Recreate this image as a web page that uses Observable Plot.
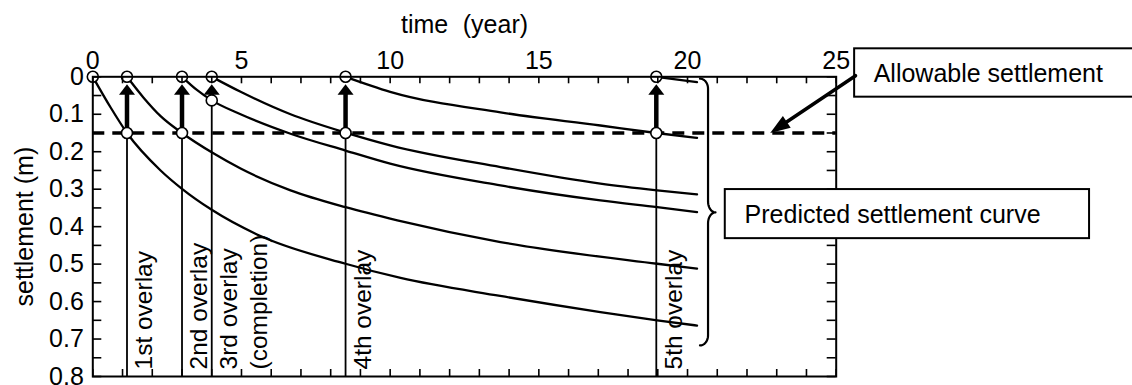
<!DOCTYPE html>
<html>
<head>
<meta charset="utf-8">
<script src="https://cdn.jsdelivr.net/npm/d3@7"></script>
<script src="https://cdn.jsdelivr.net/npm/@observablehq/plot@0.6"></script>
<style>
  html, body { margin: 0; padding: 0; background: #fff; }
  #chart { width: 1132px; height: 385px; overflow: hidden; }
</style>
</head>
<body>
<div id="chart"></div>
<script>
// ---------------- data ----------------
const xTickLabels = [0, 5, 10, 15, 20, 25];
const yTickLabels = [0, 0.1, 0.2, 0.3, 0.4, 0.5, 0.6, 0.7, 0.8];

const overlayTime = [1.15, 3, 4, 8.5, 18.95];
const overlayLabel = ["1st overlay", "2nd overlay", "3rd overlay\n(completion)", "4th overlay", "5th overlay"];
const overlayBase = [0.15, 0.15, 0.063, 0.15, 0.15];

const allowableSettlement = 0.15;

const curve1Time = [0, 0.6, 1.15, 2.28, 3.0, 4.0, 5.64, 8.5, 10.35, 13.7, 17.07, 18.98, 20.32];
const curve1Settlement = [0, 0.082, 0.15, 0.25, 0.299, 0.355, 0.425, 0.499, 0.537, 0.585, 0.628, 0.65, 0.664];
const curve2Time = [1.15, 1.7, 2.28, 3.0, 4.07, 4.97, 6.65, 8.5, 10.24, 13.71, 18.98, 20.32];
const curve2Settlement = [0, 0.055, 0.105, 0.15, 0.205, 0.245, 0.303, 0.348, 0.383, 0.441, 0.499, 0.512];
const curve3Time = [3, 3.5, 4.0, 4.97, 6.65, 8.5, 10.0, 13.71, 17.07, 18.98, 20.32];
const curve3Settlement = [0, 0.035, 0.063, 0.1, 0.152, 0.197, 0.232, 0.29, 0.33, 0.348, 0.361];
const curve4Time = [4, 4.97, 6.65, 8.5, 10.0, 13.71, 17.07, 18.98, 20.32];
const curve4Settlement = [0, 0.04, 0.1, 0.149, 0.183, 0.241, 0.285, 0.303, 0.314];
const curve5Time = [8.5, 10.0, 13.71, 17.07, 18.95, 20.32];
const curve5Settlement = [0, 0.04, 0.095, 0.13, 0.15, 0.163];
const curve6Time = [18.95, 20.32];
const curve6Settlement = [0, 0.014];

const pointTime = [0, 1.15, 1.15, 3, 3, 4, 4, 8.5, 8.5, 18.95, 18.95];
const pointSettlement = [0, 0, 0.15, 0, 0.15, 0, 0.063, 0, 0.15, 0, 0.15];

// ---------------- layout ----------------
const W = 1132, H = 385;
const mL = 92.3, mR = 296.3, mT = 76.3, mB = 9;
const innerW = W - mL - mR, innerH = H - mT - mB;
const xMax = 25, yMax = 0.8;
const pxT = innerW / xMax, pxS = innerH / yMax;
const FONT = 25;

// build tidy tables
const curves = [
  [curve1Time, curve1Settlement], [curve2Time, curve2Settlement], [curve3Time, curve3Settlement],
  [curve4Time, curve4Settlement], [curve5Time, curve5Settlement], [curve6Time, curve6Settlement]
];
const curveRows = curves.flatMap(([ts, ss], id) => ts.map((t, i) => ({id, t, s: ss[i]})));
const points = pointTime.map((t, i) => ({t, s: pointSettlement[i]}));
const overlays = overlayTime.map((t, i) => ({t, label: overlayLabel[i], base: overlayBase[i]}));

// arrow heads
const arrowTipS = 0.02;
const arrowShaftEnd = arrowTipS + 9 / pxS;
const upHead = {draw(ctx) { ctx.moveTo(0, 0); ctx.lineTo(8, 10.5); ctx.lineTo(-8, 10.5); ctx.closePath(); }};
const longHead = {draw(ctx) { ctx.moveTo(0, 0); ctx.lineTo(7, 20); ctx.lineTo(-7, 20); ctx.closePath(); }};

// allowable-settlement pointer (from the note box to the dashed line)
const pointerFrom = {t: 25.65, s: -0.003};
const pointerTo = {t: 22.78, s: allowableSettlement};
const pdx = (pointerTo.t - pointerFrom.t) * pxT, pdy = (pointerTo.s - pointerFrom.s) * pxS;
const plen = Math.hypot(pdx, pdy);
const pointerAngle = Math.atan2(pdx, -pdy) * 180 / Math.PI;
const pointerBase = {t: pointerTo.t - (pdx / plen) * 18 / pxT, s: pointerTo.s - (pdy / plen) * 18 / pxS};

// brace
function bracePoints(xs, x0, xt, yTop, yMid, yBot) {
  const r = 10 / pxS, rm = 11 / pxS, n = 12, pts = [];
  const arc = (cx, cy, rx, ry, a0, a1) => {
    for (let k = 0; k <= n; k++) {
      const a = a0 + (a1 - a0) * k / n;
      pts.push({t: cx + rx * Math.cos(a), s: cy + ry * Math.sin(a)});
    }
  };
  arc(x0, yTop + r, xs - x0, r, -Math.PI / 2, 0);
  arc(xt, yMid - rm, xt - xs, rm, Math.PI, Math.PI / 2);
  arc(xt, yMid + rm, xt - xs, rm, -Math.PI / 2, -Math.PI);
  arc(x0, yBot - r, xs - x0, r, 0, Math.PI / 2);
  return pts;
}
const brace = bracePoints(20.69, 20.42, 20.94, 0.005, 0.362, 0.717);

// note boxes
const noteBoxes = [
  {x1: 25.62, x2: 40, y1: -0.0747, y2: 0.0544},
  {x1: 21.27, x2: 33.52, y1: 0.301, y2: 0.432}
];
const noteTexts = [
  {t: 26.26, s: 0.0144, label: "Allowable settlement"},
  {t: 21.92, s: 0.390, label: "Predicted settlement curve"}
];

const xMinor = d3.range(0, 26);
const yMinor = d3.range(0, 17).map(i => i * 0.05);

const chart = Plot.plot({
  width: W, height: H,
  marginLeft: mL, marginRight: mR, marginTop: mT, marginBottom: mB,
  x: {domain: [0, xMax]},
  y: {domain: [0, yMax], reverse: true},
  style: {fontFamily: "'Liberation Sans', Arial, Helvetica, sans-serif", fontSize: FONT + "px", color: "black", background: "white"},
  marks: [
    Plot.ruleY([allowableSettlement], {stroke: "black", strokeWidth: 3.5, strokeDasharray: "12,8"}),
    Plot.line(curveRows, {x: "t", y: "s", z: "id", curve: "monotone-x", stroke: "black", strokeWidth: 2.3}),
    Plot.ruleX(overlays, {x: "t", y1: "base", y2: yMax, stroke: "black", strokeWidth: 1.8}),
    Plot.ruleX(overlays, {x: "t", y1: "base", y2: arrowShaftEnd, stroke: "black", strokeWidth: 4.5}),
    Plot.dot(overlays, {x: "t", y: arrowTipS, symbol: upHead, r: 5, fill: "black", stroke: "none"}),
    Plot.dot(points, {x: "t", y: "s", r: 5.5, fill: "white", stroke: "black", strokeWidth: 1.6}),
    Plot.text(overlays, {x: "t", text: "label", frameAnchor: "bottom", rotate: -90, textAnchor: "start",
      lineAnchor: "top", dx: 4, dy: -7, lineHeight: 1.22, fontSize: 24.5, fill: "black"}),
    Plot.frame({stroke: "black", strokeWidth: 2}),
    Plot.tickX(xMinor, {x: d => d, insetBottom: innerH - 7, stroke: "black", strokeWidth: 1.6}),
    Plot.tickX(xMinor, {x: d => d, insetTop: innerH - 7, stroke: "black", strokeWidth: 1.6}),
    Plot.tickY(yMinor, {y: d => d, insetRight: innerW - 9, stroke: "black", strokeWidth: 1.6}),
    Plot.tickY(yMinor, {y: d => d, insetLeft: innerW - 9, stroke: "black", strokeWidth: 1.6}),
    Plot.axisX({anchor: "top", ticks: xTickLabels, tickSize: 0, tickPadding: 8, fontSize: FONT, label: null}),
    Plot.axisY({anchor: "left", ticks: yTickLabels, tickSize: 0, tickPadding: 9, fontSize: FONT, label: null,
      tickFormat: d => d === 0 ? "0" : d.toFixed(1)}),
    Plot.text(["time\u2002\u200A(year)"], {text: d => d, frameAnchor: "top", dy: 32 - mT, lineAnchor: "bottom", fontSize: FONT, fill: "black"}),
    Plot.text(["settlement (m)"], {text: d => d, frameAnchor: "left", dx: 15 - mL, rotate: -90, lineAnchor: "top", textAnchor: "middle", fontSize: FONT, fill: "black"}),
    Plot.line(brace, {x: "t", y: "s", stroke: "black", strokeWidth: 2.2, curve: "linear"}),
    Plot.rect(noteBoxes, {x1: "x1", x2: "x2", y1: "y1", y2: "y2", fill: "white", stroke: "black", strokeWidth: 2}),
    Plot.text(noteTexts, {x: "t", y: "s", text: "label", textAnchor: "start", lineAnchor: "bottom", fontSize: FONT, fill: "black"}),
    Plot.line([pointerFrom, pointerBase], {x: "t", y: "s", stroke: "black", strokeWidth: 3.5}),
    Plot.dot([pointerTo], {x: "t", y: "s", symbol: longHead, r: 5, rotate: pointerAngle, fill: "black", stroke: "none"})
  ]
});
document.getElementById("chart").append(chart);
</script>
</body>
</html>
